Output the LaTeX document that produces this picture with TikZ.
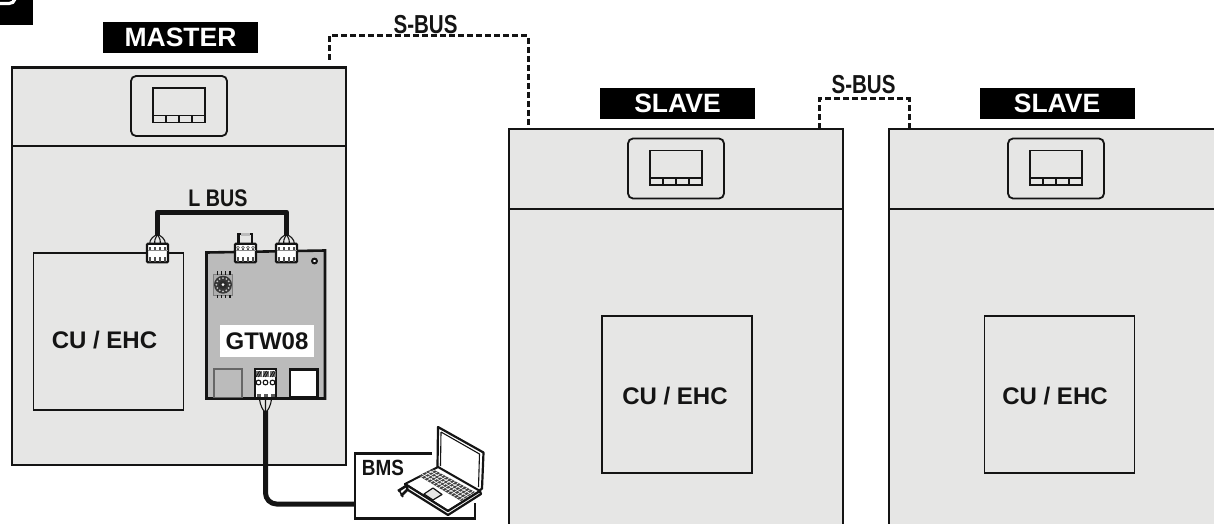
\documentclass[tikz,border=0pt]{standalone}
\usepackage{fontspec}
\usepackage{graphicx}
\setmainfont{Liberation Sans}
\usetikzlibrary{calc}
\definecolor{panel}{HTML}{E6E6E5}
\definecolor{board}{HTML}{BBBBBB}
\definecolor{ink}{HTML}{141414}
\tikzset{
  x=1pt,y=-1pt,
  cabinet/.style={draw=ink,line width=2.7pt,fill=panel},
  unit/.style={draw=ink,line width=1.9pt,inner sep=0pt,minimum width=150pt,minimum height=157pt},
  unittext/.style={inner sep=0pt,text=ink,font=\bfseries\fontsize{24}{24}\selectfont},
  tag/.style={fill=black,text=white,inner sep=0pt,minimum width=155pt,minimum height=31pt,font=\bfseries\fontsize{26.5}{26.5}\selectfont},
  buslabel/.style={inner sep=0pt,font=\bfseries\fontsize{26}{26}\selectfont,text=ink},
  sbus/.style={draw=ink,line width=3pt,dash pattern=on 6pt off 3pt},
  thick cable/.style={draw=ink,line width=5pt,line join=round}
}
\newcommand{\bezel}[2]{% centre x, top y
  \draw[ink,line width=1.8pt,rounded corners=5pt] (#1-48,#2) rectangle (#1+48,#2+60);
  \draw[ink,line width=1.9pt,fill=panel] (#1-26,#2+12) rectangle (#1+26,#2+46.5);
  \draw[ink,line width=1.6pt] (#1-26,#2+39.5) -- (#1+26,#2+39.5)
    (#1-13,#2+39.5) -- (#1-13,#2+46.5) (#1,#2+39.5) -- (#1,#2+46.5) (#1+13,#2+39.5) -- (#1+13,#2+46.5);
}
\newcommand{\plug}[3]{% name, centre x, top y : terminal block 22 wide, 20 high
  \node[draw=ink,line width=2.4pt,fill=white,rounded corners=1pt,minimum width=21pt,minimum height=18.5pt,inner sep=0pt] (#1) at (#2,#3+9.5) {};
  \fill[ink!50] (#2-10,#3+6) rectangle (#2+10,#3+7);
  \foreach \k in {-7.5,-2.5,2.5,7.5}{
    \fill[ink!75] (#2+\k-1.3,#3+3) rectangle (#2+\k+1.3,#3+6);
    \fill[ink!75] (#2+\k-1.2,#3+13) rectangle (#2+\k+1.2,#3+18);
  }
}
\newcommand{\fan}[2]{% centre x, terminal top y : wires fanning out of the cable
  \draw[ink,line width=1.1pt] (#1-8,#2+1) .. controls (#1-8,#2-5) and (#1-3,#2-8) .. (#1,#2-9);
  \draw[ink,line width=1.1pt] (#1-2.8,#2+1) .. controls (#1-2.8,#2-4) .. (#1,#2-9);
  \draw[ink,line width=1.1pt] (#1+2.8,#2+1) .. controls (#1+2.8,#2-4) .. (#1,#2-9);
  \draw[ink,line width=1.1pt] (#1+8,#2+1) .. controls (#1+8,#2-5) and (#1+3,#2-8) .. (#1,#2-9);
}
\begin{document}
\begin{tikzpicture}
\useasboundingbox (0,0) rectangle (1214,524);
% corner tab
\fill[black] (0,0) rectangle (33,25.5);
\draw[white,line width=3.2pt] (-1,3.5) -- (9,3.5) .. controls (12,3.5) and (14,2) .. (15,-1);
% cabinets
\draw[cabinet] (12,67.5) rectangle (346,465);
\draw[ink,line width=2.7pt] (12,146) -- (346,146);
\path[fill=panel] (509,129) rectangle (843,526);
\draw[ink,line width=2.7pt] (509,526) -- (509,129) -- (843,129) -- (843,526) (509,209) -- (843,209);
\path[fill=panel] (889,129) rectangle (1216,526);
\draw[ink,line width=2.7pt] (889,526) -- (889,129) -- (1216,129) (889,209) -- (1216,209);
\bezel{179}{76}
\bezel{676}{138.5}
\bezel{1056}{138.5}
% tags
\node[tag] (master) at (180.5,37.5) {MASTER};
\node[tag] (slaveA) at (677.5,103.5) {SLAVE};
\node[tag] (slaveB) at (1057,103.5) {SLAVE};
% S-BUS
\coordinate (sa) at (329,60);
\coordinate (sb) at (528,129);
\coordinate (sc) at (819,129);
\coordinate (sd) at (909,129);
\draw[sbus] (sa) -- (sa |- 0,36) -- (sb |- 0,36) -- (sb);
\draw[sbus] (sc) -- (sc |- 0,99) -- (sd |- 0,99) -- (sd);
\node[buslabel] (sbusA) at (425.5,24.5) {\scalebox{.79}[1]{S-BUS}};
\node[buslabel] (sbusB) at (863.5,84.5) {\scalebox{.79}[1]{S-BUS}};
% CU / EHC
\node[unit] (cuM) at (108.5,331.5) {};
\node[unit] (cuA) at (677,394.5) {};
\node[unit] (cuB) at (1059.5,394.5) {};
\node[unittext] (tM) at (104.5,340) {CU / EHC};
\node[unittext] (tA) at (675,396) {CU / EHC};
\node[unittext] (tB) at (1055,396) {CU / EHC};
% GTW08 board
\draw[ink,line width=2.6pt,fill=board] (206.5,252.5) -- (325,250.5) -- (325,398.5) -- (206.5,398.5) -- cycle;
\draw[ink,line width=2pt,fill=white] (314.5,261) circle (2.4pt);
% rotary switch
\fill[ink!55] (213,273.5) rectangle (233,296);
\foreach \k in {0,...,3}{\fill[ink] (216.5+\k*4.2,271) rectangle (218+\k*4.2,298);}
\fill[ink!35] (214,275) rectangle (232,294.5);
\fill[ink!85] (223,284.7) circle (9pt);
\foreach \a in {0,30,...,330}{\fill[ink!25] ($(223,284.7)+(\a:6.6)$) circle (1pt);}
\fill[ink!90] (223,284.7) circle (4pt);
\fill[white] (223,284.7) circle (1.5pt);
% GTW08 label
\node[fill=white,inner sep=0pt,minimum width=94pt,minimum height=32pt,font=\bfseries\fontsize{24}{24}\selectfont,text=ink] (gtw) at (267,341) {GTW08};
% lower ports
\draw[ink!65,line width=1.4pt] (214,369) rectangle (242,397.5);
\draw[ink,line width=2.8pt,fill=white] (290,369.5) rectangle (317.5,397);
\node[draw=ink,line width=2.6pt,fill=white,minimum width=21pt,minimum height=29pt,inner sep=0pt] (tb) at (265.5,383.5) {};
\foreach \k in {-7,0,7}{
  \fill[ink!60] (265.5+\k-3,371) rectangle (265.5+\k+3,377);
  \draw[ink,line width=.8pt] (265.5+\k-2.5,377) -- (265.5+\k+1,371) (265.5+\k,377) -- (265.5+\k+2.5,372);
  \draw[ink,line width=1.1pt,fill=white] (265.5+\k,382.5) circle (2.4pt);
  \fill[ink!70] (265.5+\k-2,393.5) rectangle (265.5+\k+2,397);
}
% BMS box and laptop
\coordinate (bmsIn) at (355,504);
\draw[ink,line width=2.6pt] (432,453.5) -- (355,453.5) -- (355,518.5) -- (475,518.5) -- (475,503);
\node[font=\bfseries\fontsize{22}{22}\selectfont,inner sep=0pt,text=ink] (bms) at (383,468) {\scalebox{.86}[1]{BMS}};
% laptop
\begin{scope}[line join=round]
  \fill[white] (438,427) -- (483.5,452.5) -- (483.5,488) -- (448,514) -- (405,484) -- (438,467) -- cycle;
  \draw[ink,line width=2.2pt,fill=white] (438,427) -- (483.5,452.5) -- (482,488.5) -- (479,491) -- (437.5,467) -- cycle;
  \draw[ink,line width=1.1pt] (441,432) -- (479.5,454) -- (478.5,487) (441,432) -- (440.5,466);
  \draw[ink,line width=2pt,fill=white] (438,467) -- (480,491) -- (448,511) -- (405,484) -- cycle;
  \draw[ink,line width=2.2pt,fill=white] (405,484) -- (408,490) -- (448,515) -- (481,494) -- (480,491) -- (448,511) -- cycle;
  \fill[ink!80] (432.5,469) -- (475,492) -- (461,501) -- (419,476) -- cycle;
  \foreach \t in {0.25,0.5,0.75}{\draw[white,line width=.6pt] ($(432.5,469)!\t!(419,476)$) -- ($(475,492)!\t!(461,501)$);}
  \foreach \t in {0.05,0.12,...,0.98}{\draw[white,line width=.6pt] ($(432.5,469)!\t!(475,492)$) -- ($(419,476)!\t!(461,501)$);}
  \draw[ink,line width=1.2pt,fill=panel] (433,488) -- (442,494.5) -- (433,500) -- (424,494) -- cycle;
  \draw[ink,line width=2.6pt] (406,486) -- (398,491) (408,489) -- (401,496);
  \draw[ink,line width=1.6pt] (399,490) -- (403,497);
\end{scope}
% terminal blocks and fans
\plug{pA}{157.5}{243.5}
\plug{pB}{245.5}{243.5}
\plug{pC}{286.5}{243.5}
\draw[ink,line width=2.4pt] (238.5,243) -- (238.5,234) -- (252,234) -- (252,243);
\fill[board] (241,232.5) rectangle (249.5,236);
\foreach \k in {-7.5,-2.5,2.5,7.5}{\draw[ink!60,line width=.6pt,fill=white] (245.5+\k,247.5) circle (1.4pt);}
% fan-outs and cables
\fan{157.5}{243.5}
\fan{286.5}{243.5}
\draw[thick cable] (pA |- 0,236) -- (157.5,212) -- (286.5,212) -- (pC |- 0,236);
\draw[ink,line width=1.1pt] (259.5,398) .. controls (260,406) and (263,410) .. (265.5,413) (271.5,398) .. controls (271,406) and (268,410) .. (265.5,413) (265.5,398) -- (265.5,413);
\draw[thick cable,rounded corners=11pt] (265.5,411) -- (265.5,504) -- (bmsIn);
\node[buslabel,font=\bfseries\fontsize{24}{24}\selectfont] (lbus) at (218,198.5) {\scalebox{.82}[1]{L BUS}};
\end{tikzpicture}
\end{document}
